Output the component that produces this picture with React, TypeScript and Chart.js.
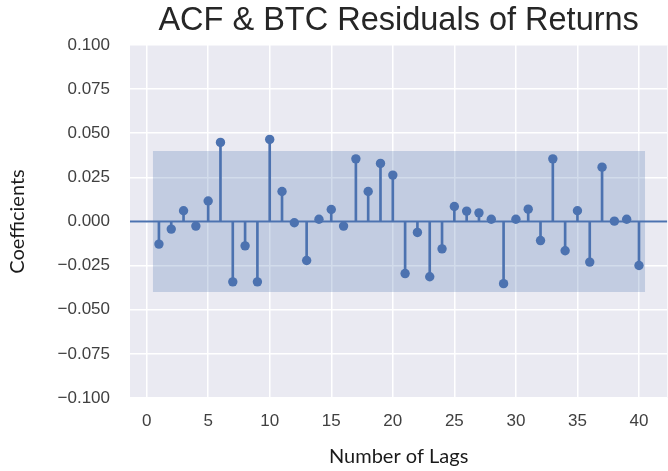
import React, { useEffect, useRef } from "react";
import { Chart, registerables } from "chart.js";

Chart.register(...registerables);

// Autocorrelation coefficients of the BTC return residuals, lags 1..40
const lags = [
  1, 2, 3, 4, 5, 6, 7, 8, 9, 10, 11, 12, 13, 14, 15, 16, 17, 18, 19, 20,
  21, 22, 23, 24, 25, 26, 27, 28, 29, 30, 31, 32, 33, 34, 35, 36, 37, 38, 39, 40,
];
const acfValues = [
  -0.0128, -0.0043, 0.0061, -0.0026, 0.0116, 0.0448, -0.0342, -0.0138, -0.0342, 0.0465,
  0.017, -0.0007, -0.0221, 0.0013, 0.0068, -0.0026, 0.0355, 0.017, 0.0329, 0.0263,
  -0.0295, -0.0062, -0.0313, -0.0155, 0.0085, 0.0059, 0.0049, 0.0013, -0.0352, 0.0013,
  0.007, -0.0108, 0.0355, -0.0166, 0.0061, -0.023, 0.0308, 0.0002, 0.0013, -0.0249,
];

// 95% confidence band, spanning half a lag beyond the first and last lag
const bandLags = [0.5, 40.5];
const bandUpper = [0.04, 0.04];
const bandLower = [-0.04, -0.04];

// Axis ticks and limits
const xTickValues = [0, 5, 10, 15, 20, 25, 30, 35, 40];
const yTickValues = [-0.1, -0.075, -0.05, -0.025, 0, 0.025, 0.05, 0.075, 0.1];
const xLimits = [-1.35, 42.3];
const yLimits = [-0.1, 0.1];

const chartTitle = "ACF & BTC Residuals of Returns";
const xAxisTitle = "Number of Lags";
const yAxisTitle = "Coefficients";

const BLUE = "#4C72B0";
const TICK_FONT = { family: "'Liberation Sans', Arial, sans-serif", size: 17 };
const LABEL_FONT = { family: "Lato, sans-serif", size: 20 };

const plotBackground = {
  id: "plotBackground",
  beforeDraw(chart: any) {
    const { ctx, chartArea: a } = chart;
    ctx.save();
    ctx.fillStyle = "#EAEAF2";
    ctx.fillRect(a.left, a.top, a.right - a.left, a.bottom - a.top);
    ctx.restore();
  },
};

function formatCoef(v: number): string {
  const s = Math.abs(v).toFixed(3);
  return v < -1e-9 ? "\u2212" + s : s;
}

export default function App() {
  const canvasRef = useRef<HTMLCanvasElement>(null);

  useEffect(() => {
    const canvas = canvasRef.current;
    if (!canvas) return;

    const points = lags.map((lag, i) => ({ x: lag, y: acfValues[i] }));

    const chart = new Chart(canvas, {
      type: "scatter",
      data: {
        datasets: [
          {
            type: "line",
            label: "upper",
            data: bandLags.map((x, i) => ({ x, y: bandUpper[i] })),
            borderWidth: 0,
            pointRadius: 0,
            backgroundColor: "rgba(76,114,176,0.25)",
            fill: "+1",
            order: 0,
          },
          {
            type: "line",
            label: "lower",
            data: bandLags.map((x, i) => ({ x, y: bandLower[i] })),
            borderWidth: 0,
            pointRadius: 0,
            fill: false,
            order: 0,
          },
          {
            type: "scatter",
            label: "acf",
            data: points,
            pointRadius: 4.7,
            pointHoverRadius: 4.7,
            backgroundColor: BLUE,
            borderWidth: 0,
            order: 1,
          },
          {
            type: "bar",
            label: "stems",
            data: points,
            backgroundColor: BLUE,
            borderWidth: 0,
            barThickness: 2,
            order: 2,
          },
          {
            type: "line",
            label: "zero",
            data: [
              { x: xLimits[0], y: 0 },
              { x: xLimits[1], y: 0 },
            ],
            borderColor: BLUE,
            borderWidth: 2,
            pointRadius: 0,
            fill: false,
            order: 3,
          },
        ],
      } as any,
      options: {
        responsive: false,
        animation: false,
        devicePixelRatio: 1,
        layout: { padding: 0 },
        plugins: {
          legend: { display: false },
          tooltip: { enabled: false },
          title: {
            display: true,
            text: chartTitle,
            fullSize: false,
            color: "#262626",
            font: { family: "'Liberation Sans', Arial, sans-serif", size: 32.5, weight: "normal" },
            padding: { top: 2, bottom: 4 },
          },
        },
        scales: {
          x: {
            type: "linear",
            min: xLimits[0],
            max: xLimits[1],
            offset: false,
            afterBuildTicks: (s: any) => {
              s.ticks = xTickValues.map((value) => ({ value }));
            },
            afterFit: (s: any) => {
              s.height = 73;
            },
            ticks: {
              font: TICK_FONT,
              color: "#404040",
              padding: 13,
              autoSkip: false,
              maxRotation: 0,
              callback: (v: any) => String(v),
            },
            grid: { color: "#ffffff", lineWidth: 1.5, drawTicks: false, offset: false },
            border: { display: false },
            title: {
              display: true,
              text: xAxisTitle,
              color: "#1a1a1a",
              font: LABEL_FONT,
              padding: { top: 0, bottom: 2 },
            },
          },
          y: {
            type: "linear",
            min: yLimits[0],
            max: yLimits[1],
            afterBuildTicks: (s: any) => {
              s.ticks = yTickValues.map((value) => ({ value }));
            },
            afterFit: (s: any) => {
              s.width = 130;
            },
            ticks: {
              font: TICK_FONT,
              color: "#404040",
              padding: 20,
              callback: (v: any) => formatCoef(Number(v)),
            },
            grid: { color: "#ffffff", lineWidth: 1.5, drawTicks: false },
            border: { display: false },
            title: {
              display: true,
              text: yAxisTitle,
              color: "#1a1a1a",
              font: LABEL_FONT,
              padding: { top: 6, bottom: 0 },
            },
          },
        },
      } as any,
      plugins: [plotBackground],
    });

    return () => chart.destroy();
  }, []);

  return (
    <div
      style={{
        position: "fixed",
        left: 0,
        top: 0,
        width: 668,
        height: 471,
        overflow: "hidden",
        background: "#ffffff",
      }}
    >
      <canvas
        ref={canvasRef}
        width={672}
        height={471}
        style={{ display: "block", width: 672, height: 471 }}
      />
    </div>
  );
}
